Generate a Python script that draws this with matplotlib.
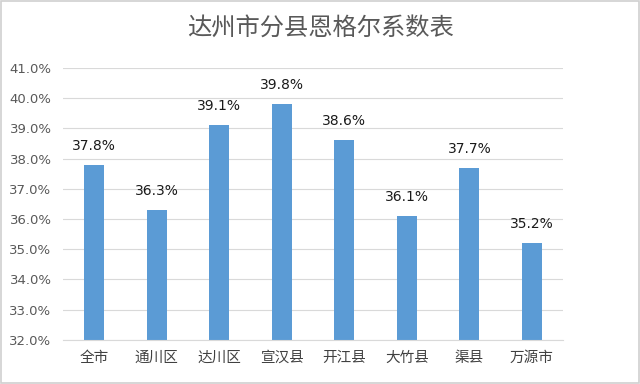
import matplotlib.pyplot as plt
from matplotlib.patches import Rectangle
from matplotlib.ticker import FuncFormatter

plt.rcParams['font.family'] = ['Noto Sans CJK SC', 'DejaVu Sans']

# 达州市分县恩格尔系数
regions = ['全市', '通川区', '达川区', '宣汉县', '开江县', '大竹县', '渠县', '万源市']
engel = [37.8, 36.3, 39.1, 39.8, 38.6, 36.1, 37.7, 35.2]

fig = plt.figure(figsize=(6.4, 3.84), dpi=100)
ax = fig.add_axes([0.098, 0.115, 0.782, 0.708])

x = range(len(regions))
ax.bar(x, engel, width=0.32, color='#5b9bd5', zorder=2)

for i, v in zip(x, engel):
    ax.text(i, v + 0.4, '%.1f%%' % v, ha='center', va='bottom',
            fontsize=10, color='#1a1a1a', family=['DejaVu Sans'])

ax.set_ylim(32, 41)
ax.set_xlim(-0.5, len(regions) - 0.5)
ax.set_yticks(range(32, 42))
ax.yaxis.set_major_formatter(FuncFormatter(lambda v, p: '%.1f%%' % v))
ax.set_xticks(list(x))
ax.set_xticklabels(regions, fontsize=10.5, color='#404040')
for lab in ax.get_yticklabels():
    lab.set_fontsize(9.5)
    lab.set_color('#595959')
    lab.set_family(['DejaVu Sans'])

ax.grid(axis='y', color='#d9d9d9', linewidth=0.8, zorder=0)
ax.tick_params(length=0, pad=8)
for s in ['top', 'right', 'left']:
    ax.spines[s].set_visible(False)
ax.spines['bottom'].set_color('#d9d9d9')

fig.text(0.5, 0.928, '达州市分县恩格尔系数表', ha='center', va='center',
         fontsize=17.5, color='#595959')

fig.patches.append(Rectangle((0.002, 0.003), 0.996, 0.994, transform=fig.transFigure,
                             fill=False, edgecolor='#d0d0d0', linewidth=1.2))

plt.savefig('out.png', dpi=100)
